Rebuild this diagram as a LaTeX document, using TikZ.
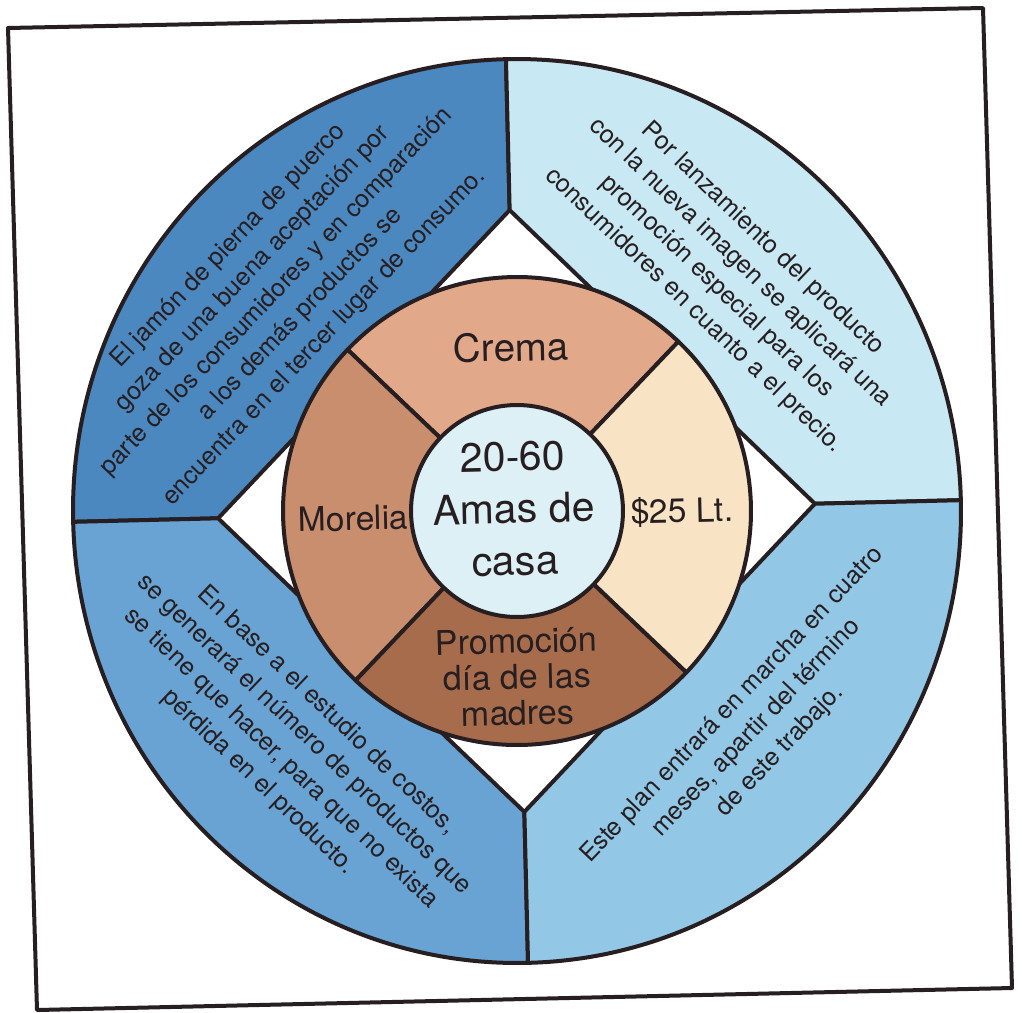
\documentclass[tikz,border=0pt]{standalone}
\usepackage{fontspec}
\setmainfont{TeX Gyre Heros}
\definecolor{ink}{RGB}{38,30,32}
\definecolor{qTL}{RGB}{76,136,192}
\definecolor{qTR}{RGB}{200,232,243}
\definecolor{qBL}{RGB}{104,163,211}
\definecolor{qBR}{RGB}{146,199,229}
\definecolor{sTop}{RGB}{226,168,138}
\definecolor{sLeft}{RGB}{200,142,110}
\definecolor{sRight}{RGB}{248,228,196}
\definecolor{sBot}{RGB}{166,108,76}
\definecolor{core}{RGB}{221,240,245}
\tikzset{
  border/.style={draw=ink, line width=4pt, line join=round},
  lbl/.style={text=ink, align=center, inner sep=0pt},
  outertxt/.style={lbl, font=\fontsize{25}{33}\selectfont},
  ringtxt/.style={lbl, font=\fontsize{33.5}{36}\selectfont, rotate=1.4},
}
\begin{document}
\begin{tikzpicture}[x=1pt,y=1pt]
\useasboundingbox (0,0) rectangle (1022,-1012);
\fill[white] (0,0) rectangle (1022,-1012);
\draw[border] (8,-28) -- (983,-8) -- (1012,-988) -- (37,-1010) -- cycle;
\begin{scope}[shift={(517,-511)}, rotate=1.4]
  % outer quadrants
  \filldraw[border, fill=qTL] (0,301) -- (0,452) arc[start angle=90, end angle=180, x radius=444, y radius=452] -- (-299,0) -- cycle;
  \filldraw[border, fill=qTR] (0,301) -- (0,452) arc[start angle=90, end angle=0, x radius=444, y radius=452] -- (298,0) -- cycle;
  \filldraw[border, fill=qBL] (0,-301) -- (0,-452) arc[start angle=270, end angle=180, x radius=444, y radius=452] -- (-299,0) -- cycle;
  \filldraw[border, fill=qBR] (0,-301) -- (0,-452) arc[start angle=270, end angle=360, x radius=444, y radius=452] -- (298,0) -- cycle;
  % middle ring
  \filldraw[border, fill=sTop] (0,0) -- (45:234) arc[start angle=45, end angle=135, radius=234] -- cycle;
  \filldraw[border, fill=sLeft] (0,0) -- (135:234) arc[start angle=135, end angle=225, radius=234] -- cycle;
  \filldraw[border, fill=sBot] (0,0) -- (225:234) arc[start angle=225, end angle=315, radius=234] -- cycle;
  \filldraw[border, fill=sRight] (0,0) -- (315:234) arc[start angle=315, end angle=405, radius=234] -- cycle;
  % core
  \filldraw[border, fill=core] (0,0) circle[radius=106];
  % texts (base anchor of a multi-line node = baseline of its last line)
  \node[lbl, font=\fontsize{41}{52}\selectfont, rotate=1.4, anchor=base] (centre) at (-3,-64) {20-60\\Amas de\\casa};
  \node[ringtxt, font=\fontsize{38.5}{40}\selectfont, anchor=base] (crema) at (-2,150) {Crema};
  \node[ringtxt, anchor=base] (morelia) at (-164,-15.5) {Morelia};
  \node[ringtxt, anchor=base] (precio) at (165,-15.5) {\$25 Lt.};
  \node[ringtxt, font=\fontsize{34}{36}\selectfont, anchor=base] (promo) at (-4,-214) {Promoción\\día de las\\madres};
  \node[outertxt, rotate=46.4] (tl) at (-235,225) {El jamón de pierna de puerco\\goza de una buena aceptación por\\parte de los consumidores y en comparación\\a los demás productos se\\encuentra en el tercer lugar de consumo.};
  \node[outertxt, rotate=-43.6] (tr) at (217,231) {Por lanzamiento del producto\\con la nueva imagen se aplicará una\\promoción especial para los\\consumidores en cuanto a el precio.};
  \node[outertxt, rotate=-43.6] (bl) at (-230,-230) {En base a el estudio de costos,\\se generará el número de productos que\\se tiene que hacer, para que no exista\\pérdida en el producto.};
  \node[outertxt, rotate=46.4] (br) at (234,-223) {Este plan entrará en marcha en cuatro\\meses, apartir del término\\de este trabajo.};
\end{scope}
\end{tikzpicture}
\end{document}
